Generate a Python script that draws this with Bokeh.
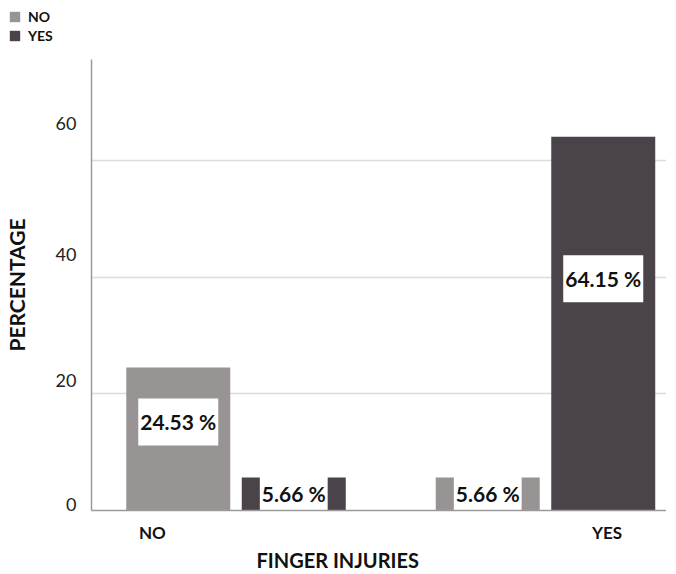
import numpy as np
from bokeh.plotting import figure
from bokeh.layouts import column
from bokeh.models import ColumnDataSource, FixedTicker, CustomJSTickFormatter, Range1d, Legend, Title
from bokeh.core.properties import value
from bokeh.embed import file_html
from bokeh.resources import INLINE

# ---- data ----
groups = ["NO", "YES"]                 # FINGER INJURIES categories
series_names = ["NO", "YES"]           # legend series
series_no = [24.53, 5.66]
series_yes = [5.66, 64.15]
y_tick_labels = ["0", "20", "40", "60"]
grid_values = [20, 40, 60]
x_title = "FINGER INJURIES"
y_title = "PERCENTAGE"

# ---- style / layout ----
colors = ["#989493", "#4b434a"]
offsets = [-0.1866, 0.1866]
bar_w = 0.336
x_label_pos = [-0.27, 1.199]
y_label_pos = [1.0, 22.35, 44.0, 66.5]
FONT = "Lato"
series_vals = [series_no, series_yes]

# ---- legend strip (zero-height bars outside the visible range: only the legend shows) ----
lg = figure(width=660, height=47, output_backend="svg", toolbar_location=None,
            x_axis_type=None, y_axis_type=None, x_range=Range1d(100, 101), y_range=Range1d(0, 100),
            min_border_left=0, min_border_right=0, min_border_top=0, min_border_bottom=0)
lg.frame_align = False
lg.outline_line_color = None
lg.xgrid.visible = False
lg.ygrid.visible = False
litems = []
for i, name in enumerate(series_names):
    r = lg.vbar(x=np.arange(len(groups)), top=series_vals[i], bottom=series_vals[i], width=0.1,
                color=colors[i], line_color=None)
    litems.append((name, [r]))
legend = Legend(items=litems, location=(8, 3), label_text_font=FONT, label_text_font_style="bold",
                label_text_font_size="14px", label_text_color="#111111", glyph_width=13, glyph_height=13,
                spacing=2, padding=0, margin=0, label_standoff=7, background_fill_alpha=0,
                border_line_color=None)
lg.add_layout(legend)

# ---- main chart ----
p = figure(frame_width=575, frame_height=451, output_backend="svg", toolbar_location=None,
           x_range=Range1d(-0.4669, 1.391), y_range=Range1d(0, 77.4),
           min_border_left=85, min_border_right=0, min_border_top=12, min_border_bottom=58)
p.frame_align = False
p.outline_line_color = None
p.background_fill_color = "white"

for i, (name, vals) in enumerate(zip(series_names, series_vals)):
    v = np.array(vals, dtype=float)
    x = np.arange(len(groups)) + offsets[i]
    src = ColumnDataSource(dict(x=x, top=v, label=[f"{a:.2f} %" for a in v],
                                ly=np.minimum(v * 0.62, v - 2.8)))
    p.vbar(x="x", top="top", width=bar_w, color=colors[i], line_color=None, source=src)
    p.text(x="x", y="ly", text="label", source=src, text_align="center", text_baseline="middle",
           text_font=value(FONT), text_font_style="bold", text_font_size="21px", text_color="#111111",
           background_fill_color="white", padding=(2, 11))

for ax in (p.xaxis[0], p.yaxis[0]):
    ax.axis_line_color = "#9a9a9a"
    ax.axis_line_width = 1.5
    ax.major_tick_line_color = None
    ax.minor_tick_line_color = None
    ax.major_tick_out = 0
    ax.major_tick_in = 0

p.yaxis.ticker = FixedTicker(ticks=y_label_pos)
p.yaxis.formatter = CustomJSTickFormatter(args=dict(labels=y_tick_labels), code="return labels[index];")
p.yaxis.major_label_text_font = FONT
p.yaxis.major_label_text_font_size = "18px"
p.yaxis.major_label_text_color = "#222222"
p.yaxis.major_label_standoff = 15
p.yaxis.axis_label = y_title
p.yaxis.axis_label_text_font = FONT
p.yaxis.axis_label_text_font_style = "bold"
p.yaxis.axis_label_text_font_size = "21px"
p.yaxis.axis_label_text_color = "#111111"
p.yaxis.axis_label_standoff = 24

p.xaxis.ticker = FixedTicker(ticks=x_label_pos)
p.xaxis.formatter = CustomJSTickFormatter(args=dict(labels=groups), code="return labels[index];")
p.xaxis.major_label_text_font = FONT
p.xaxis.major_label_text_font_style = "bold"
p.xaxis.major_label_text_font_size = "17px"
p.xaxis.major_label_text_color = "#111111"
p.xaxis.major_label_standoff = 11

xt = Title(text=x_title, align="left", offset=165, standoff=0, text_font=FONT, text_font_style="bold",
           text_font_size="20px", text_color="#111111")
p.add_layout(xt, "below")

p.xgrid.visible = False
p.ygrid[0].ticker = FixedTicker(ticks=grid_values)
p.ygrid.grid_line_color = "#dcdcdc"
p.ygrid.grid_line_width = 1.5

layout = column(lg, p, spacing=0)
open("out.html", "w").write(file_html(layout, INLINE))
